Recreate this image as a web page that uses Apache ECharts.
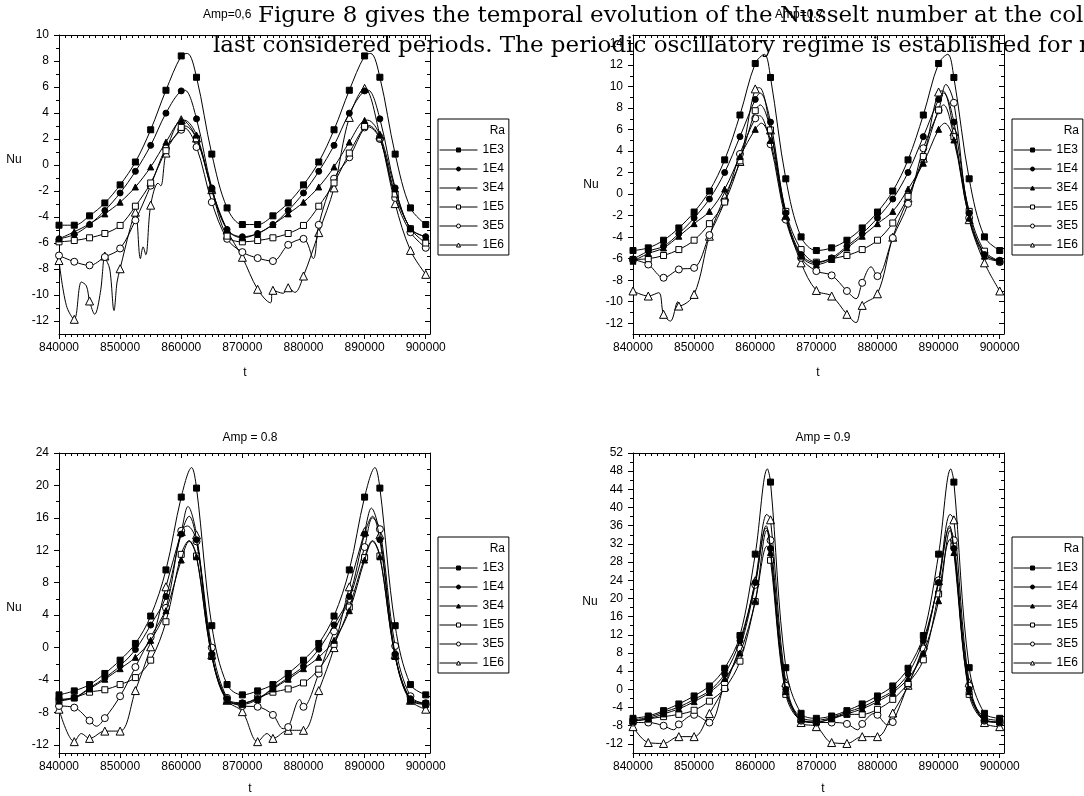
<!DOCTYPE html>
<html><head><meta charset="utf-8">
<script src="https://cdn.jsdelivr.net/npm/echarts@6/dist/echarts.min.js"></script>
<style>html,body{margin:0;padding:0;background:#fff}#c{width:1084px;height:796px}</style>
</head><body><div id="c"></div>
<script>
// ---------- data ----------
const tValues = [840000,842500,845000,847500,850000,852500,855000,857500,860000,862500,865000,867500,870000,872500,875000,877500,880000,882500,885000,887500,890000,892500,895000,897500,900000];
const raNames = ['1E3','1E4','3E4','1E5','3E5','1E6'];
const xTickLabels = [840000,850000,860000,870000,880000,890000,900000];

// Amp = 0.6
const amp06_1E3 = [-4.63,-4.63,-3.91,-2.92,-1.53,0.23,2.71,5.75,8.39,6.75,0.84,-3.30,-4.58,-4.58,-3.91,-2.92,-1.53,0.23,2.71,5.75,8.39,6.75,0.84,-3.30,-4.58];
const amp06_1E4 = [-5.68,-5.35,-4.58,-3.50,-2.15,-0.49,1.51,3.99,5.70,3.55,-1.76,-4.96,-5.52,-5.27,-4.58,-3.50,-2.15,-0.49,1.51,3.99,5.70,3.55,-1.76,-4.90,-5.52];
const amp06_3E4 = [-5.68,-5.14,-4.53,-3.76,-2.86,-1.69,-0.15,1.76,3.43,2.30,-1.84,-4.96,-5.60,-5.27,-4.58,-3.76,-2.86,-1.69,-0.15,1.76,3.43,2.30,-1.84,-4.90,-5.52];
const amp06_1E5 = [-5.91,-5.81,-5.60,-5.27,-4.65,-3.17,-1.38,1.10,2.89,2.02,-1.95,-5.47,-5.91,-5.81,-5.60,-5.27,-4.65,-3.17,-1.38,0.92,2.97,2.07,-2.23,-4.90,-6.00];
const amp06_3E5 = [-6.96,-7.44,-7.72,-7.08,-6.42,-4.25,-1.59,1.30,2.71,1.38,-2.86,-5.68,-6.70,-7.16,-7.39,-6.14,-5.68,-4.60,-1.05,0.59,2.89,2.00,-2.53,-5.17,-6.37];
const amp06_1E6 = [-7.35,-11.87,-10.46,-7.00,-7.98,-3.63,-3.09,0.92,3.48,2.07,-1.90,-5.00,-7.10,-9.56,-9.64,-9.44,-8.54,-5.20,-1.76,3.66,5.90,2.30,-2.97,-6.57,-8.41];
const amp06_1E3_extra = [[861000,8.58],[891000,8.58]];
const amp06_1E4_extra = [[860600,5.75],[890600,5.75]];
const amp06_3E4_extra = [[860500,3.45],[890500,3.45]];
const amp06_1E5_extra = [[860600,3.0],[890600,3.05]];
const amp06_3E5_extra = [[860500,2.85],[881600,-7.2],[890500,2.95]];
const amp06_1E6_extra = [[841200,-10.8],[843660,-9.0],[844480,-9.3],[845840,-11.48],[846770,-9.8],[847480,-6.88],[848300,-8.0],[849000,-11.2],[849500,-9.0],[851570,-5.0],[853320,-7.2],[853760,-6.3],[854200,-6.9],[856210,-1.4],[856650,-1.6],[859210,3.1],[874610,-10.6],[876680,-9.87],[878590,-9.8]];

// Amp = 0.7
const amp07_1E3 = [-5.24,-4.99,-4.28,-3.14,-1.66,0.29,3.19,7.36,12.15,10.85,1.43,-3.97,-5.24,-4.99,-4.28,-3.14,-1.66,0.29,3.19,7.36,12.15,10.85,1.43,-3.97,-5.24];
const amp07_1E4 = [-6.07,-5.30,-4.84,-3.67,-2.21,-0.45,2.02,5.35,8.81,6.70,-1.75,-5.61,-6.38,-5.92,-4.84,-3.67,-2.21,-0.45,2.02,5.35,8.81,6.70,-1.75,-5.61,-6.14];
const amp07_3E4 = [-6.23,-5.52,-5.00,-3.91,-2.74,-1.60,0.47,3.50,6.03,5.00,-2.06,-5.76,-6.54,-6.07,-5.00,-3.91,-2.74,-1.60,0.47,2.88,6.03,5.04,-2.21,-5.76,-6.23];
const amp07_1E5 = [-6.07,-6.00,-5.70,-5.15,-4.28,-2.74,-0.73,3.10,7.76,5.97,-1.60,-5.15,-6.32,-6.00,-5.70,-5.15,-4.28,-2.68,-0.20,3.50,7.82,5.35,-1.60,-5.30,-6.23];
const amp07_3E5 = [-6.07,-6.54,-7.77,-7.00,-6.85,-3.80,-0.67,3.74,7.05,4.64,-2.37,-5.92,-7.15,-7.55,-9.00,-8.24,-7.62,-4.07,-0.89,4.27,7.80,8.50,-2.20,-5.46,-6.32];
const amp07_1E6 = [-9.00,-9.47,-11.17,-10.40,-9.32,-3.91,-0.20,3.04,9.79,5.97,-2.06,-6.38,-8.95,-9.47,-11.17,-10.34,-9.26,-4.00,-0.36,3.35,9.50,5.82,-2.37,-6.38,-9.00];
const amp07_1E3_extra = [[861500,13.0],[891500,13.0]];
const amp07_1E4_extra = [[860800,9.4],[890800,9.4]];
const amp07_3E4_extra = [[861000,6.6],[891000,6.6]];
const amp07_1E5_extra = [[860800,8.3],[890800,8.3]];
const amp07_3E5_extra = [[860700,7.3],[876490,-9.72],[878950,-6.75],[891200,10.2]];
const amp07_1E6_extra = [[844210,-9.16],[846130,-11.8],[847330,-10.0],[860700,9.9],[876490,-11.94],[890700,9.6]];

// Amp = 0.8
const amp08_1E3 = [-5.83,-5.34,-4.56,-3.19,-1.55,0.51,3.89,9.58,18.56,19.67,2.70,-4.56,-5.83,-5.34,-4.56,-3.19,-1.55,0.51,3.89,9.58,18.56,19.67,2.70,-4.56,-5.83];
const amp08_1E4 = [-6.37,-6.17,-4.97,-3.73,-2.25,-0.24,2.78,6.30,14.00,13.30,-0.80,-6.30,-6.80,-6.30,-5.00,-3.70,-2.30,-0.20,2.80,6.30,14.00,13.30,-0.80,-6.30,-6.80];
const amp08_3E4 = [-6.60,-6.20,-5.10,-3.90,-2.60,-1.20,0.90,4.55,10.80,11.20,-1.10,-6.50,-7.00,-6.40,-5.10,-3.90,-2.60,-1.20,0.90,4.55,10.80,11.20,-1.10,-6.50,-7.00];
const amp08_1E5 = [-6.50,-6.20,-5.50,-5.20,-4.56,-3.70,-1.55,3.19,11.50,11.30,-1.00,-6.50,-6.90,-6.20,-5.50,-5.10,-4.36,-2.66,0.40,5.00,11.10,11.30,-1.00,-6.50,-6.90];
const amp08_3E5 = [-7.20,-7.40,-9.00,-8.70,-6.00,-2.40,1.30,4.90,14.40,13.10,0.00,-6.20,-7.20,-7.30,-8.30,-9.80,-7.30,-3.20,2.00,6.00,12.40,14.60,0.20,-6.00,-7.00];
const amp08_1E6 = [-7.60,-11.60,-11.20,-10.30,-10.30,-5.30,0.10,7.50,14.30,13.90,-0.90,-6.50,-7.90,-11.60,-11.20,-10.20,-10.20,-5.30,0.00,7.50,14.30,13.90,-0.90,-6.50,-7.60];
const amp08_1E3_extra = [[861700,22.2],[891700,22.2]];
const amp08_1E4_extra = [[861300,16.2],[891300,16.2]];
const amp08_3E4_extra = [[861300,13.1],[891300,13.1]];
const amp08_1E5_extra = [[861300,13.2],[891300,13.2]];
const amp08_3E5_extra = [[846110,-9.7],[861000,15.0],[876680,-10.0],[879410,-6.4],[891300,16.0]];
const amp08_1E6_extra = [[843660,-10.6],[861100,17.4],[874060,-10.6],[891100,17.2]];

// Amp = 0.9
const amp09_1E3 = [-6.37,-5.86,-4.68,-3.21,-1.45,0.75,4.64,11.84,29.75,45.60,4.77,-5.27,-6.37,-5.86,-4.68,-3.21,-1.45,0.75,4.64,11.84,29.75,45.60,4.77,-5.27,-6.37];
const amp09_1E4 = [-6.70,-6.20,-5.00,-3.90,-2.20,-0.30,3.40,10.70,23.50,31.00,0.00,-6.20,-6.80,-6.20,-5.00,-3.90,-2.20,-0.30,3.40,10.70,23.50,31.00,0.00,-6.20,-6.80];
const amp09_3E4 = [-7.00,-6.50,-5.40,-4.30,-2.70,-0.70,2.40,8.00,19.50,30.10,-0.50,-6.60,-7.20,-6.50,-5.40,-4.30,-2.70,-0.70,2.40,8.00,19.50,30.10,-0.50,-6.60,-7.20];
const amp09_1E5 = [-7.00,-6.50,-6.00,-5.50,-4.60,-2.60,0.20,6.20,19.30,28.40,-1.10,-6.80,-7.20,-6.40,-5.50,-5.50,-4.40,-2.20,1.30,6.50,21.00,31.50,-1.10,-6.80,-7.20];
const amp09_3E5 = [-7.30,-7.30,-8.00,-7.70,-5.60,-7.30,1.30,9.00,23.00,32.80,0.80,-6.90,-7.30,-7.30,-7.60,-7.60,-5.60,-7.20,1.00,9.00,24.00,32.80,0.80,-6.90,-7.30];
const amp09_1E6 = [-8.20,-11.70,-11.90,-10.40,-10.40,-5.30,0.70,9.70,23.90,37.30,1.50,-7.30,-8.20,-11.70,-11.90,-10.40,-10.40,-5.20,0.90,9.70,23.90,37.30,1.50,-7.30,-8.20];
const amp09_1E3_extra = [[862000,48.5],[892000,48.5]];
const amp09_1E4_extra = [[861800,36.0],[891800,36.0]];
const amp09_3E4_extra = [[861900,35.0],[891900,35.0]];
const amp09_1E5_extra = [[861900,31.5],[891900,33.0]];
const amp09_3E5_extra = [[846670,-8.9],[861800,35.5],[876760,-8.9],[879500,-5.3],[881700,-7.8],[891800,35.5]];
const amp09_1E6_extra = [[861900,38.5],[891900,38.5]];

// axis tick labels
const yTicks06 = [-12,-10,-8,-6,-4,-2,0,2,4,6,8,10];
const yTicks07 = [-12,-10,-8,-6,-4,-2,0,2,4,6,8,10,12,14];
const yTicks08 = [-12,-8,-4,0,4,8,12,16,20,24];
const yTicks09 = [-12,-8,-4,0,4,8,12,16,20,24,28,32,36,40,44,48,52];

// ---------- build ----------
const FONT = 'Liberation Sans, Arial, sans-serif';
const xMin = 840000, xMax = 900700, xMinorStep = 1000;
const xMinor = [];
for (let v = xMin; v <= xMax; v += xMinorStep) if (xTickLabels.indexOf(v) < 0) xMinor.push(v);
function midTicks(major, lo, hi) {
  const step = major[1] - major[0], out = [];
  for (let i = 0; i < major.length; i++) {
    const m = major[i] + step / 2; if (m < hi) out.push(m);
  }
  return out.filter(v => v > lo);
}

const panels = [
  {grid:{left:59, top:35, width:371, height:299}, yMin:-13, yMax:10, yTicks:yTicks06,
   series:[amp06_1E3,amp06_1E4,amp06_3E4,amp06_1E5,amp06_3E5,amp06_1E6],
   extra:[amp06_1E3_extra,amp06_1E4_extra,amp06_3E4_extra,amp06_1E5_extra,amp06_3E5_extra,amp06_1E6_extra],
   legend:{left:438, top:119}},
  {grid:{left:633, top:35, width:371, height:299}, yMin:-13, yMax:14.8, yTicks:yTicks07,
   series:[amp07_1E3,amp07_1E4,amp07_3E4,amp07_1E5,amp07_3E5,amp07_1E6],
   extra:[amp07_1E3_extra,amp07_1E4_extra,amp07_3E4_extra,amp07_1E5_extra,amp07_3E5_extra,amp07_1E6_extra],
   legend:{left:1012, top:119}},
  {grid:{left:59, top:453, width:371, height:300}, yMin:-13, yMax:24, yTicks:yTicks08,
   series:[amp08_1E3,amp08_1E4,amp08_3E4,amp08_1E5,amp08_3E5,amp08_1E6],
   extra:[amp08_1E3_extra,amp08_1E4_extra,amp08_3E4_extra,amp08_1E5_extra,amp08_3E5_extra,amp08_1E6_extra],
   legend:{left:438, top:537}},
  {grid:{left:633, top:453, width:371, height:300}, yMin:-14, yMax:52, yTicks:yTicks09,
   series:[amp09_1E3,amp09_1E4,amp09_3E4,amp09_1E5,amp09_3E5,amp09_1E6],
   extra:[amp09_1E3_extra,amp09_1E4_extra,amp09_3E4_extra,amp09_1E5_extra,amp09_3E5_extra,amp09_1E6_extra],
   legend:{left:1012, top:537}}
];

const symbolStyles = [
  {symbol:'rect', size:6, fill:'#000'},
  {symbol:'circle', size:6, fill:'#000'},
  {symbol:'triangle', size:6, fill:'#000'},
  {symbol:'rect', size:6, fill:'#fff'},
  {symbol:'circle', size:7, fill:'#fff'},
  {symbol:'triangle', size:8, fill:'#fff'}
];

const grids = [], xAxes = [], yAxes = [], series = [], legends = [];
const black = {color:'#000', width:1};
const plain = v => String(v);
panels.forEach((p, g) => {
  grids.push(Object.assign({containLabel:false}, p.grid));
  const yMinor = midTicks(p.yTicks, p.yMin, p.yMax);
  const xBase = {gridIndex:g, type:'value', min:xMin, max:xMax, splitLine:{show:false}};
  xAxes.push(Object.assign({}, xBase, {position:'bottom',
    axisLine:{show:true, onZero:false, lineStyle:black},
    axisTick:{show:true, inside:false, length:5, customValues:xTickLabels, lineStyle:black},
    axisLabel:{show:true, customValues:xTickLabels, formatter:plain, margin:8, fontSize:12, fontFamily:FONT, color:'#000'}}));
  xAxes.push(Object.assign({}, xBase, {position:'bottom',
    axisLine:{show:false, onZero:false},
    axisTick:{show:true, inside:false, length:3, customValues:xMinor, lineStyle:black},
    axisLabel:{show:false}}));
  xAxes.push(Object.assign({}, xBase, {position:'top',
    axisLine:{show:true, onZero:false, lineStyle:black},
    axisTick:{show:true, inside:true, length:5, customValues:xTickLabels, lineStyle:black},
    axisLabel:{show:false}}));
  xAxes.push(Object.assign({}, xBase, {position:'top',
    axisLine:{show:false, onZero:false},
    axisTick:{show:true, inside:true, length:3, customValues:xMinor, lineStyle:black},
    axisLabel:{show:false}}));
  const yBase = {gridIndex:g, type:'value', min:p.yMin, max:p.yMax, splitLine:{show:false}};
  yAxes.push(Object.assign({}, yBase, {position:'left',
    axisLine:{show:true, onZero:false, lineStyle:black},
    axisTick:{show:true, inside:false, length:5, customValues:p.yTicks, lineStyle:black},
    axisLabel:{show:true, customValues:p.yTicks, formatter:plain, margin:10, fontSize:12, fontFamily:FONT, color:'#000'}}));
  yAxes.push(Object.assign({}, yBase, {position:'left',
    axisLine:{show:false, onZero:false},
    axisTick:{show:true, inside:false, length:3, customValues:yMinor, lineStyle:black},
    axisLabel:{show:false}}));
  yAxes.push(Object.assign({}, yBase, {position:'right',
    axisLine:{show:true, onZero:false, lineStyle:black},
    axisTick:{show:true, inside:true, length:5, customValues:p.yTicks, lineStyle:black},
    axisLabel:{show:false}}));
  yAxes.push(Object.assign({}, yBase, {position:'right',
    axisLine:{show:false, onZero:false},
    axisTick:{show:true, inside:true, length:3, customValues:yMinor, lineStyle:black},
    axisLabel:{show:false}}));

  p.series.forEach((vals, k) => {
    const st = symbolStyles[k];
    const pts = vals.map((v, i) => ({value:[tValues[i], v]}));
    p.extra[k].forEach(e => pts.push({value:[e[0], e[1]], symbol:'none'}));
    pts.sort((a, b) => a.value[0] - b.value[0]);
    series.push({
      type:'line', name:raNames[k], xAxisIndex:g*4, yAxisIndex:g*4, data:pts,
      smooth:0.35, symbol:st.symbol, symbolSize:st.size, showAllSymbol:true,
      lineStyle:{color:'#000', width:1},
      itemStyle:{color:st.fill, borderColor:'#000', borderWidth:1},
      emphasis:{disabled:true}, silent:true, z:2 + (5 - k) * 0.01
    });
  });

  legends.push({
    left:p.legend.left, top:p.legend.top, orient:'vertical', data:raNames,
    itemWidth:38, itemHeight:5, itemGap:7, padding:[25,5,4,1],
    borderColor:'#000', borderWidth:1, backgroundColor:'#fff',
    lineStyle:{width:1}, itemStyle:{borderWidth:1},
    selectedMode:false, textStyle:{fontSize:12, fontFamily:FONT, color:'#000'}
  });
});

const txt = (x, y, text, align, extra) => ({type:'text', x:x, y:y, z:50,
  style:Object.assign({text:text, textAlign:align || 'center', verticalAlign:'middle', font:'12px ' + FONT, fill:'#000'}, extra || {})});

const graphics = [
  txt(203, 15, 'Amp=0,6', 'left'),
  txt(775, 15, 'Amp=0.7', 'left'),
  txt(250, 438, 'Amp = 0.8'),
  txt(823, 438, 'Amp = 0.9'),
  txt(14, 160, 'Nu'), txt(591, 185, 'Nu'), txt(14, 608, 'Nu'), txt(590, 602, 'Nu'),
  txt(245, 373, 't'), txt(818, 373, 't'), txt(250, 789, 't'), txt(823, 789, 't'),
  txt(505, 131, 'Ra', 'right'), txt(1079, 131, 'Ra', 'right'),
  txt(505, 549, 'Ra', 'right'), txt(1079, 549, 'Ra', 'right'),
  {type:'text', x:258, y:16, z:60, style:{text:'Figure 8 gives the temporal evolution of the Nusselt number at the cold', textAlign:'left', verticalAlign:'middle', font:'23px "DejaVu Serif", serif', fill:'#000'}},
  {type:'text', x:213, y:46, z:60, style:{text:'last considered periods. The periodic oscillatory regime is established for m', textAlign:'left', verticalAlign:'middle', font:'23px "DejaVu Serif", serif', fill:'#000'}}
];

const chart = echarts.init(document.getElementById('c'), null, {renderer:'canvas', width:1084, height:796});
chart.setOption({
  animation:false, backgroundColor:'#fff',
  grid:grids, xAxis:xAxes, yAxis:yAxes, series:series, legend:legends, graphic:graphics
});
</script></body></html>
